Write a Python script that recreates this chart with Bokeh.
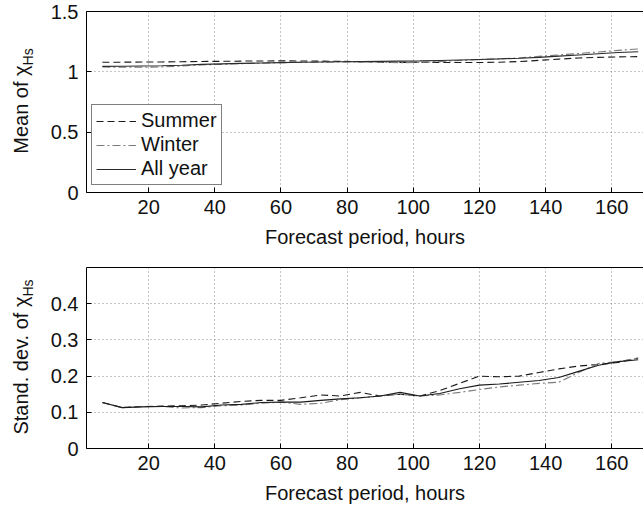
from bokeh.embed import file_html
from bokeh.layouts import column, row
from bokeh.models import Div, FixedTicker, LinearAxis, Range1d
from bokeh.plotting import figure
from bokeh.resources import INLINE

# Forecast lead times (hours)
hours = [6, 12, 18, 24, 30, 36, 42, 48, 54, 60, 66, 72, 78, 84,
         90, 96, 102, 108, 114, 120, 126, 132, 138, 144, 150, 156, 162, 168]

# Mean of the Hs ratio
mean_summer = [1.080, 1.080, 1.081, 1.082, 1.084, 1.086, 1.087, 1.089, 1.090, 1.091,
               1.090, 1.089, 1.087, 1.085, 1.080, 1.078, 1.079, 1.078, 1.077, 1.077,
               1.080, 1.085, 1.095, 1.105, 1.115, 1.120, 1.124, 1.126]
mean_winter = [1.040, 1.038, 1.038, 1.040, 1.048, 1.058, 1.062, 1.068, 1.072, 1.076,
               1.078, 1.080, 1.082, 1.083, 1.080, 1.076, 1.078, 1.085, 1.094, 1.102,
               1.108, 1.115, 1.128, 1.140, 1.152, 1.165, 1.178, 1.190]
mean_all = [1.045, 1.046, 1.048, 1.050, 1.055, 1.062, 1.066, 1.070, 1.073, 1.076,
            1.079, 1.081, 1.083, 1.085, 1.087, 1.089, 1.091, 1.094, 1.098, 1.102,
            1.107, 1.113, 1.120, 1.130, 1.140, 1.150, 1.160, 1.166]

# Standard deviation of the Hs ratio
std_summer = [0.127, 0.113, 0.116, 0.117, 0.118, 0.120, 0.125, 0.130, 0.133, 0.133,
              0.140, 0.148, 0.145, 0.155, 0.145, 0.150, 0.145, 0.160, 0.180, 0.200,
              0.198, 0.200, 0.210, 0.220, 0.228, 0.232, 0.238, 0.250]
std_winter = [0.127, 0.113, 0.116, 0.116, 0.112, 0.113, 0.118, 0.120, 0.125, 0.128,
              0.122, 0.125, 0.135, 0.140, 0.145, 0.150, 0.145, 0.148, 0.155, 0.163,
              0.170, 0.175, 0.180, 0.183, 0.210, 0.235, 0.240, 0.250]
std_all = [0.127, 0.113, 0.115, 0.116, 0.116, 0.115, 0.120, 0.122, 0.127, 0.128,
           0.128, 0.133, 0.137, 0.140, 0.145, 0.155, 0.145, 0.152, 0.165, 0.175,
           0.178, 0.183, 0.188, 0.196, 0.213, 0.230, 0.240, 0.245]

x_ticks = [20, 40, 60, 80, 100, 120, 140, 160]
mean_ticks = [0, 0.5, 1, 1.5]
std_ticks = [0, 0.1, 0.2, 0.3, 0.4]

FONT = "Liberation Sans"
FS = "20px"
LABEL_W = 36


def panel(y_max, y_ticks, top_border, bottom_border):
    p = figure(frame_width=557, frame_height=181,
               min_border_left=86 - LABEL_W, min_border_right=0,
               min_border_top=top_border, min_border_bottom=bottom_border,
               x_range=Range1d(1.2, 169.6), y_range=Range1d(0, y_max),
               output_backend="svg", toolbar_location=None,
               background_fill_color="white", border_fill_color="white")
    p.outline_line_color = None

    for ax in (p.xaxis[0], p.yaxis[0]):
        ax.major_tick_in = 5
        ax.major_tick_out = 0
        ax.minor_tick_in = 0
        ax.minor_tick_out = 0
        ax.axis_line_color = "black"
        ax.major_tick_line_color = "black"
        ax.major_label_text_font = FONT
        ax.major_label_text_font_size = FS
        ax.major_label_text_color = "#111111"

    p.xaxis.ticker = FixedTicker(ticks=x_ticks)
    p.yaxis.ticker = FixedTicker(ticks=y_ticks)
    p.yaxis.major_label_overrides = {t: f"{t:g}" for t in y_ticks}
    p.xaxis.major_label_standoff = 7
    p.yaxis.major_label_standoff = 8

    p.xaxis.axis_label = "Forecast period, hours"
    p.xaxis.axis_label_text_font = FONT
    p.xaxis.axis_label_text_font_size = FS
    p.xaxis.axis_label_text_font_style = "normal"
    p.xaxis.axis_label_text_color = "#111111"
    p.xaxis.axis_label_standoff = 9

    # plain box edge along the top
    top = LinearAxis(ticker=FixedTicker(ticks=[]),
                     major_tick_in=0, major_tick_out=0,
                     minor_tick_in=0, minor_tick_out=0,
                     axis_line_color="black")
    p.add_layout(top, "above")

    for g in (p.xgrid[0], p.ygrid[0]):
        g.grid_line_color = "#888888"
        g.grid_line_dash = "1 3"
        g.grid_line_width = 1
    return p


def y_title(main, height, center_y):
    # rotated y-axis title with a subscript, read bottom to top
    html = (
        f'<div style="position:relative;width:{LABEL_W}px;height:{height}px;">'
        f'<span style="position:absolute;left:22.5px;top:{center_y}px;'
        'transform:translate(-50%,-50%) rotate(-90deg);white-space:nowrap;'
        f'font-family:\'{FONT}\';font-size:{FS};color:#111111;line-height:1;">'
        f'{main}<sub style="font-size:14px;">Hs</sub></span></div>'
    )
    return Div(text=html, width=LABEL_W, height=height, margin=0)


p1 = panel(1.5, mean_ticks, 11, 63)
p1.line(hours, mean_summer, line_color="#1a1a1a", line_width=1.1,
        line_dash="7 4", legend_label="Summer")
p1.line(hours, mean_winter, line_color="#7a7a7a", line_width=1.1,
        line_dash="8 3 2 3", legend_label="Winter")
p1.line(hours, mean_all, line_color="#2a2a2a", line_width=1.1,
        legend_label="All year")

lg = p1.legend[0]
lg.location = (5, 7)
lg.border_line_color = "black"
lg.border_line_width = 1
lg.background_fill_color = "white"
lg.background_fill_alpha = 1
lg.label_text_font = FONT
lg.label_text_font_size = FS
lg.label_text_color = "#111111"
lg.glyph_width = 40
lg.glyph_height = 20
lg.label_height = 20
lg.label_standoff = 5
lg.spacing = 1
lg.padding = 4
lg.margin = 0

p2 = panel(0.5, std_ticks, 12, 63)
p2.line(hours, std_summer, line_color="#1a1a1a", line_width=1.1, line_dash="7 4")
p2.line(hours, std_winter, line_color="#7a7a7a", line_width=1.1, line_dash="8 3 2 3")
p2.line(hours, std_all, line_color="#1a1a1a", line_width=1.1)

t1 = y_title("Mean of χ", 255, 101)
t2 = y_title("Stand. dev. of χ", 256, 102)

layout = row(column(t1, t2, spacing=0), column(p1, p2, spacing=0), spacing=0)
open("out.html", "w").write(file_html(layout, INLINE))
